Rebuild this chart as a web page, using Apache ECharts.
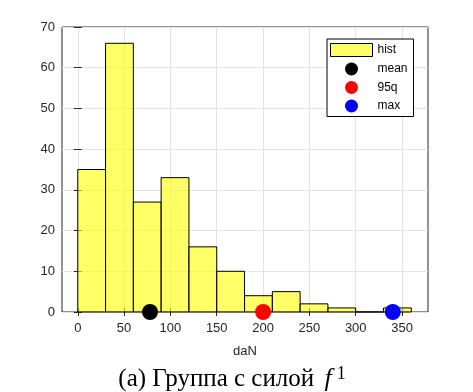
<!DOCTYPE html>
<html>
<head>
<meta charset="utf-8">
<script src="https://cdn.jsdelivr.net/npm/echarts@6/dist/echarts.min.js"></script>
<style>
  html, body { margin: 0; padding: 0; background: #fff; }
  #chart { width: 473px; height: 392px; }
</style>
</head>
<body>
<div id="chart"></div>
<script>
// histogram bins (daN) and counts
const binEdges = [0, 30, 60, 90, 120, 150, 180, 210, 240, 270, 300, 330, 360];
const counts = [35, 66, 27, 33, 16, 10, 4, 5, 2, 1, 0, 1];

// statistic markers
const meanVal = 78;
const q95Val = 200;
const maxVal = 340;

// tick labels
const xTicks = [0, 50, 100, 150, 200, 250, 300, 350];

const axisColor = '#262626';
const labelFont = 'Liberation Sans';

const histData = counts.map((c, i) => [binEdges[i], binEdges[i + 1], c]);

const chart = echarts.init(document.getElementById('chart'));

const option = {
    animation: false,
    grid: {
        left: 62,
        top: 27,
        right: 45,
        bottom: 80,
        show: true,
        borderColor: axisColor,
        borderWidth: 1
    },
    legend: {
        orient: 'vertical',
        left: 327,
        top: 39,
        padding: [4, 6, 4, 3],
        itemWidth: 42,
        itemHeight: 13,
        itemGap: 5.5,
        borderColor: '#000',
        borderWidth: 1,
        backgroundColor: '#fff',
        textStyle: { fontFamily: labelFont, fontSize: 12, color: '#000' },
        data: [
            { name: 'hist', icon: 'rect', itemStyle: { color: 'rgba(255,255,0,0.6)', borderColor: '#000', borderWidth: 1 } },
            { name: 'mean', icon: 'circle' },
            { name: '95q', icon: 'circle' },
            { name: 'max', icon: 'circle' }
        ]
    },
    xAxis: [{
        type: 'value',
        min: -17,
        max: 378,
        name: 'daN',
        nameLocation: 'middle',
        nameGap: 33,
        nameTextStyle: { fontFamily: labelFont, fontSize: 13, color: axisColor },
        axisLine: { show: false },
        axisTick: { show: true, inside: true, length: 4, customValues: xTicks, lineStyle: { color: axisColor } },
        axisLabel: { customValues: xTicks, margin: 10, fontFamily: labelFont, fontSize: 13, color: axisColor },
        splitLine: { show: true, lineStyle: { color: '#e3e3e3' } }
    }, {
        type: 'value',
        position: 'top',
        min: -17,
        max: 378,
        axisLine: { show: false },
        axisTick: { show: true, inside: true, length: 4, customValues: xTicks, lineStyle: { color: axisColor } },
        axisLabel: { show: false },
        splitLine: { show: false }
    }],
    yAxis: [{
        type: 'value',
        min: 0,
        max: 70,
        interval: 10,
        axisLine: { show: false },
        axisTick: { show: true, inside: true, length: 4, lineStyle: { color: axisColor } },
        axisLabel: { margin: 7, fontFamily: labelFont, fontSize: 13, color: axisColor },
        splitLine: { show: true, lineStyle: { color: '#e3e3e3' } }
    }, {
        type: 'value',
        position: 'right',
        min: 0,
        max: 70,
        interval: 10,
        axisLine: { show: false },
        axisTick: { show: true, inside: true, length: 4, lineStyle: { color: axisColor } },
        axisLabel: { show: false },
        splitLine: { show: false }
    }],
    series: [{
        name: 'hist',
        type: 'custom',
        data: histData,
        encode: { x: [0, 1], y: 2 },
        itemStyle: { color: 'rgba(255,255,0,0.6)', borderColor: '#000', borderWidth: 1 },
        renderItem: function (params, api) {
            const p0 = api.coord([api.value(0), api.value(2)]);
            const p1 = api.coord([api.value(1), 0]);
            return {
                type: 'rect',
                shape: { x: p0[0], y: p0[1], width: p1[0] - p0[0], height: p1[1] - p0[1] },
                style: { fill: 'rgba(255,255,0,0.6)', stroke: '#000', lineWidth: 1 }
            };
        },
        z: 2
    }, {
        name: 'mean',
        type: 'scatter',
        data: [[meanVal, 0]],
        symbol: 'circle',
        symbolSize: 16,
        clip: false,
        itemStyle: { color: '#000', opacity: 1 },
        z: 5
    }, {
        name: '95q',
        type: 'scatter',
        data: [[q95Val, 0]],
        symbol: 'circle',
        symbolSize: 16,
        clip: false,
        itemStyle: { color: '#ff0000', opacity: 1 },
        z: 5
    }, {
        name: 'max',
        type: 'scatter',
        data: [[maxVal, 0]],
        symbol: 'circle',
        symbolSize: 16,
        clip: false,
        itemStyle: { color: '#0000ff', opacity: 1 },
        z: 5
    }],
    graphic: [{
        type: 'text',
        x: 232,
        y: 379,
        style: {
            text: '{t|(a) Группа с силой }{f|f}{s|1}',
            align: 'center',
            verticalAlign: 'middle',
            rich: {
                t: { fontFamily: 'Liberation Serif', fontSize: 25, color: '#000', lineHeight: 28 },
                f: { fontFamily: 'Liberation Serif', fontStyle: 'italic', fontSize: 26, color: '#000', lineHeight: 28, padding: [0, 0, 0, 4] },
                s: { fontFamily: 'Liberation Serif', fontSize: 18, color: '#000', lineHeight: 28, verticalAlign: 'top', padding: [0, 0, 0, 5] }
            }
        }
    }]
};

chart.setOption(option);
window.addEventListener('resize', () => chart.resize());
</script>
</body>
</html>
